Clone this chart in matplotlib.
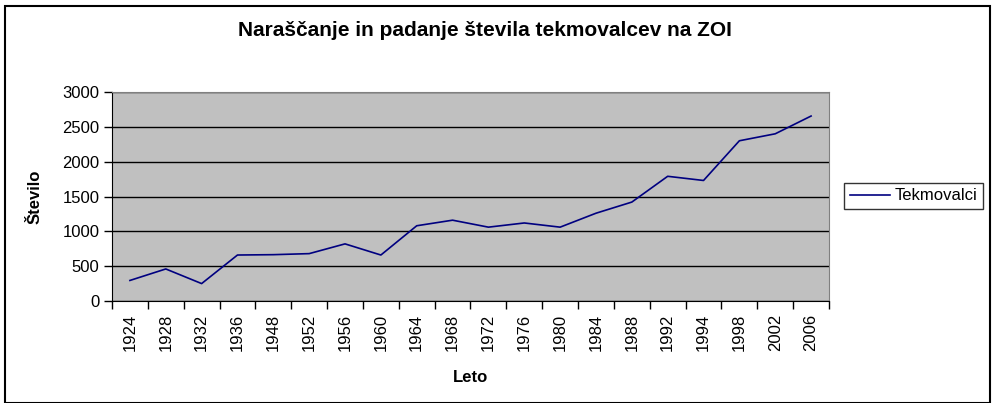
import matplotlib.pyplot as plt
from matplotlib.patches import Rectangle

plt.rcParams['font.family'] = ['Liberation Sans', 'DejaVu Sans']

# leta in stevilo tekmovalcev
leta = ['1924', '1928', '1932', '1936', '1948', '1952', '1956', '1960', '1964', '1968',
        '1972', '1976', '1980', '1984', '1988', '1992', '1994', '1998', '2002', '2006']
tekmovalci = [295, 460, 250, 660, 665, 680, 820, 660, 1080, 1160,
              1060, 1120, 1060, 1260, 1420, 1790, 1730, 2300, 2400, 2655]
yticks = [0, 500, 1000, 1500, 2000, 2500, 3000]

fig = plt.figure(figsize=(9.95, 4.03), dpi=100)
ax = fig.add_axes([112 / 995, 1 - 301 / 403, 717 / 995, 209 / 403])
ax.set_facecolor('#C0C0C0')

x = list(range(len(leta)))
ax.plot(x, tekmovalci, color='#000080', lw=1.2, label='Tekmovalci')

ax.set_xlim(-0.5, len(leta) - 0.5)
ax.set_ylim(0, 3000)
ax.set_yticks(yticks)
ax.yaxis.grid(True, color='black', lw=1)
ax.set_axisbelow(True)

# kljukice med kategorijami, oznake na sredini
ax.set_xticks([i - 0.5 for i in range(len(leta) + 1)])
ax.set_xticklabels([])
ax.set_xticks(x, minor=True)
ax.set_xticklabels(leta, minor=True, rotation=90, fontsize=12)
ax.tick_params(axis='x', which='major', length=6, width=1, direction='out')
ax.tick_params(axis='x', which='minor', length=0, pad=9)
ax.tick_params(axis='y', length=6, width=1, labelsize=12, pad=3)

for s in ['top', 'right']:
    ax.spines[s].set_color('#808080')
for s in ['left', 'bottom']:
    ax.spines[s].set_color('black')

ax.set_xlabel('Leto', fontsize=12, fontweight='bold', labelpad=14)
ax.set_ylabel('Število', fontsize=12, fontweight='bold', labelpad=14)

fig.text(485 / 995, 1 - 31 / 403, 'Naraščanje in padanje števila tekmovalcev na ZOI',
         ha='center', va='center', fontsize=15, fontweight='bold')

leg = ax.legend(loc='center left', bbox_to_anchor=(844 / 995, 1 - 196 / 403),
                bbox_transform=fig.transFigure, fontsize=12, frameon=True,
                fancybox=False, edgecolor='black', borderpad=0.35,
                handlelength=2.4, handletextpad=0.3, borderaxespad=0)
leg.get_frame().set_linewidth(1)

fig.patches.append(Rectangle((5 / 995, 0.5 / 403), 985 / 995, 397 / 403,
                             transform=fig.transFigure, fill=False,
                             edgecolor='black', lw=1.5))

fig.savefig('out.png', dpi=100)
